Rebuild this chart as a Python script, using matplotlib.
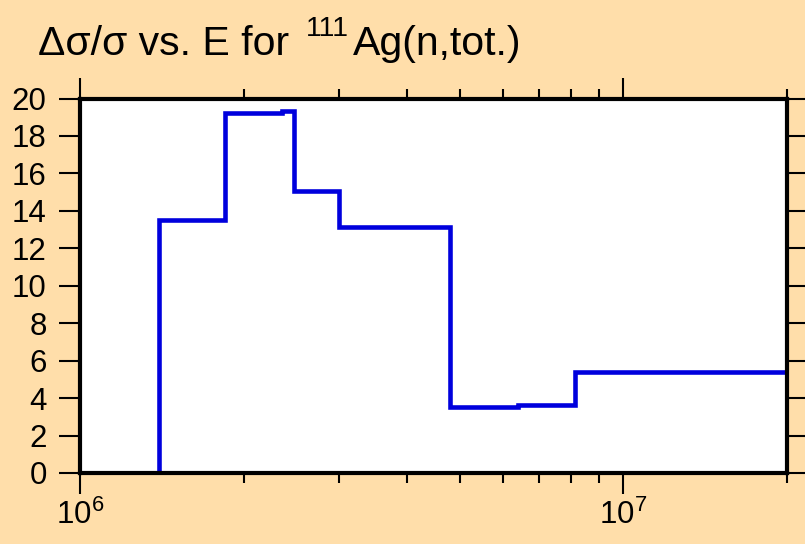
import matplotlib
matplotlib.use("Agg")
import matplotlib.pyplot as plt
import numpy as np
from matplotlib.ticker import LogLocator, FixedLocator, NullFormatter, LogFormatterSciNotation

plt.rcParams['font.family'] = ['Liberation Sans', 'DejaVu Sans']
plt.rcParams['mathtext.fontset'] = 'custom'
plt.rcParams['mathtext.rm'] = 'Liberation Sans'
plt.rcParams['mathtext.it'] = 'Liberation Sans'
plt.rcParams['mathtext.bf'] = 'Liberation Sans:bold'

# Energy bin edges (eV) and relative uncertainty (%)
edges = [1.40e6, 1.85e6, 2.35e6, 2.48e6, 3.00e6, 4.80e6, 6.40e6, 8.15e6, 2.0e7]
values = [13.5, 19.25, 19.32, 15.08, 13.15, 3.55, 3.62, 5.4]
yticks = [0, 2, 4, 6, 8, 10, 12, 14, 16, 18, 20]

bg = '#FFDEAA'
W, H = 805, 544
fig = plt.figure(figsize=(8.05, 5.44), dpi=100, facecolor=bg)
ax = fig.add_axes([80/W, 1-473/H, (787-80)/W, (473-98.5)/H])
ax.set_facecolor('white')

ax.stairs(values, edges, baseline=0, fill=False, color='#0000DD', linewidth=3.3)

ax.set_xscale('log')
ax.set_xlim(1e6, 2e7)
ax.set_ylim(0, 20)
ax.set_yticks(yticks)
ax.set_yticklabels([str(v) for v in yticks])

ax.xaxis.set_major_locator(FixedLocator([1e6, 1e7]))
ax.xaxis.set_major_formatter(LogFormatterSciNotation())
ax.xaxis.set_minor_locator(LogLocator(base=10, subs=np.arange(2, 10), numticks=20))
ax.xaxis.set_minor_formatter(NullFormatter())

for s in ax.spines.values():
    s.set_linewidth(3.0)
    s.set_color('black')

ax.tick_params(axis='both', which='major', direction='out', length=15, width=1.5,
               labelsize=22.5, top=True, right=True)
ax.tick_params(axis='both', which='minor', direction='out', length=7, width=1.5,
               top=True, right=True)
ax.tick_params(axis='y', pad=9)
ax.tick_params(axis='x', pad=4)

# Title in pieces (main text, superscript mass number, reaction)
fig.text(38/W, 1-55/H, 'Δσ/σ vs. E for', fontsize=29.5, ha='left', va='baseline')
fig.text(306/W, 1-35.5/H, '111', fontsize=20.5, ha='left', va='baseline')
fig.text(353/W, 1-55/H, 'Ag(n,tot.)', fontsize=29.5, ha='left', va='baseline')

fig.savefig('out.png', dpi=100, facecolor=bg)
